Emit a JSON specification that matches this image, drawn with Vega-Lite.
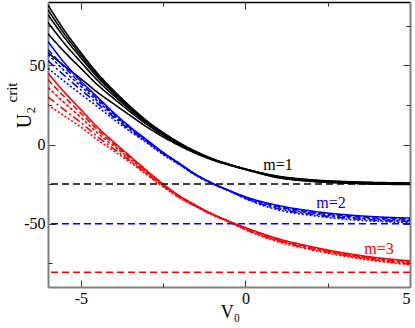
{
"$schema":"https://vega.github.io/schema/vega-lite/v6.json",
"width":362,"height":285,"autosize":"none",
"padding":{"left":48,"top":2,"right":5,"bottom":41},
"config":{"view":{"stroke":null},"font":"Liberation Serif",
"axis":{"grid":false,"labelFont":"Liberation Serif","titleFont":"Liberation Serif","labelColor":"#000","titleColor":"#000","titleFontWeight":"normal","labelFontSize":16,"titleFontSize":18,"domainColor":"#808080","domainWidth":2,"tickColor":"#333","tickWidth":1}},
"datasets":{
"curves":[
{"i":"k0","m":"m=1","s":"a","V":-6,"U":88},{"i":"k0","m":"m=1","s":"a","V":-5.5,"U":72},{"i":"k0","m":"m=1","s":"a","V":-5,"U":58},{"i":"k0","m":"m=1","s":"a","V":-4.5,"U":45},{"i":"k0","m":"m=1","s":"a","V":-4,"U":34},{"i":"k0","m":"m=1","s":"a","V":-3.5,"U":24},{"i":"k0","m":"m=1","s":"a","V":-3,"U":15},{"i":"k0","m":"m=1","s":"a","V":-2.5,"U":7.5},{"i":"k0","m":"m=1","s":"a","V":-2,"U":1},{"i":"k0","m":"m=1","s":"a","V":-1.5,"U":-4.5},{"i":"k0","m":"m=1","s":"a","V":-1,"U":-9},{"i":"k0","m":"m=1","s":"a","V":-0.5,"U":-12.5},{"i":"k0","m":"m=1","s":"a","V":0,"U":-15.5},{"i":"k0","m":"m=1","s":"a","V":1,"U":-20},{"i":"k0","m":"m=1","s":"a","V":2,"U":-22.3},{"i":"k0","m":"m=1","s":"a","V":3,"U":-23.4},{"i":"k0","m":"m=1","s":"a","V":4,"U":-24},{"i":"k0","m":"m=1","s":"a","V":5,"U":-24.3},
{"i":"k1","m":"m=1","s":"a","V":-6,"U":85},{"i":"k1","m":"m=1","s":"a","V":-5.5,"U":69.8},{"i":"k1","m":"m=1","s":"a","V":-5,"U":56.4},{"i":"k1","m":"m=1","s":"a","V":-4.5,"U":43.8},{"i":"k1","m":"m=1","s":"a","V":-4,"U":33.2},{"i":"k1","m":"m=1","s":"a","V":-3.5,"U":23.4},{"i":"k1","m":"m=1","s":"a","V":-3,"U":14.6},{"i":"k1","m":"m=1","s":"a","V":-2.5,"U":7.2},{"i":"k1","m":"m=1","s":"a","V":-2,"U":0.8},{"i":"k1","m":"m=1","s":"a","V":-1.5,"U":-4.6},{"i":"k1","m":"m=1","s":"a","V":-1,"U":-9.1},{"i":"k1","m":"m=1","s":"a","V":-0.5,"U":-12.6},{"i":"k1","m":"m=1","s":"a","V":0,"U":-15.5},{"i":"k1","m":"m=1","s":"a","V":1,"U":-20.2},{"i":"k1","m":"m=1","s":"a","V":2,"U":-22.5},{"i":"k1","m":"m=1","s":"a","V":3,"U":-23.6},{"i":"k1","m":"m=1","s":"a","V":4,"U":-24.2},{"i":"k1","m":"m=1","s":"a","V":5,"U":-24.5},
{"i":"k2","m":"m=1","s":"a","V":-6,"U":82},{"i":"k2","m":"m=1","s":"a","V":-5.5,"U":67.5},{"i":"k2","m":"m=1","s":"a","V":-5,"U":54.7},{"i":"k2","m":"m=1","s":"a","V":-4.5,"U":42.6},{"i":"k2","m":"m=1","s":"a","V":-4,"U":32.3},{"i":"k2","m":"m=1","s":"a","V":-3.5,"U":22.9},{"i":"k2","m":"m=1","s":"a","V":-3,"U":14.2},{"i":"k2","m":"m=1","s":"a","V":-2.5,"U":7},{"i":"k2","m":"m=1","s":"a","V":-2,"U":0.6},{"i":"k2","m":"m=1","s":"a","V":-1.5,"U":-4.7},{"i":"k2","m":"m=1","s":"a","V":-1,"U":-9.2},{"i":"k2","m":"m=1","s":"a","V":-0.5,"U":-12.6},{"i":"k2","m":"m=1","s":"a","V":0,"U":-15.6},{"i":"k2","m":"m=1","s":"a","V":1,"U":-20.4},{"i":"k2","m":"m=1","s":"a","V":2,"U":-22.7},{"i":"k2","m":"m=1","s":"a","V":3,"U":-23.8},{"i":"k2","m":"m=1","s":"a","V":4,"U":-24.4},{"i":"k2","m":"m=1","s":"a","V":5,"U":-24.7},
{"i":"k3","m":"m=1","s":"a","V":-6,"U":77},{"i":"k3","m":"m=1","s":"a","V":-5.5,"U":63.8},{"i":"k3","m":"m=1","s":"a","V":-5,"U":52},{"i":"k3","m":"m=1","s":"a","V":-4.5,"U":40.6},{"i":"k3","m":"m=1","s":"a","V":-4,"U":30.9},{"i":"k3","m":"m=1","s":"a","V":-3.5,"U":21.9},{"i":"k3","m":"m=1","s":"a","V":-3,"U":13.6},{"i":"k3","m":"m=1","s":"a","V":-2.5,"U":6.5},{"i":"k3","m":"m=1","s":"a","V":-2,"U":0.3},{"i":"k3","m":"m=1","s":"a","V":-1.5,"U":-4.9},{"i":"k3","m":"m=1","s":"a","V":-1,"U":-9.3},{"i":"k3","m":"m=1","s":"a","V":-0.5,"U":-12.7},{"i":"k3","m":"m=1","s":"a","V":0,"U":-15.6},{"i":"k3","m":"m=1","s":"a","V":1,"U":-20.6},{"i":"k3","m":"m=1","s":"a","V":2,"U":-22.9},{"i":"k3","m":"m=1","s":"a","V":3,"U":-24},{"i":"k3","m":"m=1","s":"a","V":4,"U":-24.6},{"i":"k3","m":"m=1","s":"a","V":5,"U":-24.9},
{"i":"k4","m":"m=1","s":"a","V":-6,"U":70},{"i":"k4","m":"m=1","s":"a","V":-5.5,"U":58.5},{"i":"k4","m":"m=1","s":"a","V":-5,"U":48.1},{"i":"k4","m":"m=1","s":"a","V":-4.5,"U":37.8},{"i":"k4","m":"m=1","s":"a","V":-4,"U":29},{"i":"k4","m":"m=1","s":"a","V":-3.5,"U":20.6},{"i":"k4","m":"m=1","s":"a","V":-3,"U":12.7},{"i":"k4","m":"m=1","s":"a","V":-2.5,"U":5.9},{"i":"k4","m":"m=1","s":"a","V":-2,"U":-0.1},{"i":"k4","m":"m=1","s":"a","V":-1.5,"U":-5.2},{"i":"k4","m":"m=1","s":"a","V":-1,"U":-9.5},{"i":"k4","m":"m=1","s":"a","V":-0.5,"U":-12.8},{"i":"k4","m":"m=1","s":"a","V":0,"U":-15.7},{"i":"k4","m":"m=1","s":"a","V":1,"U":-20.8},{"i":"k4","m":"m=1","s":"a","V":2,"U":-23.1},{"i":"k4","m":"m=1","s":"a","V":3,"U":-24.2},{"i":"k4","m":"m=1","s":"a","V":4,"U":-24.8},{"i":"k4","m":"m=1","s":"a","V":5,"U":-25.1},
{"i":"k5","m":"m=1","s":"a","V":-6,"U":58},{"i":"k5","m":"m=1","s":"a","V":-5.5,"U":49.5},{"i":"k5","m":"m=1","s":"a","V":-5,"U":41.5},{"i":"k5","m":"m=1","s":"a","V":-4.5,"U":33},{"i":"k5","m":"m=1","s":"a","V":-4,"U":25.6},{"i":"k5","m":"m=1","s":"a","V":-3.5,"U":18.3},{"i":"k5","m":"m=1","s":"a","V":-3,"U":11.1},{"i":"k5","m":"m=1","s":"a","V":-2.5,"U":4.8},{"i":"k5","m":"m=1","s":"a","V":-2,"U":-0.8},{"i":"k5","m":"m=1","s":"a","V":-1.5,"U":-5.7},{"i":"k5","m":"m=1","s":"a","V":-1,"U":-9.8},{"i":"k5","m":"m=1","s":"a","V":-0.5,"U":-13},{"i":"k5","m":"m=1","s":"a","V":0,"U":-15.8},{"i":"k5","m":"m=1","s":"a","V":1,"U":-21},{"i":"k5","m":"m=1","s":"a","V":2,"U":-23.3},{"i":"k5","m":"m=1","s":"a","V":3,"U":-24.4},{"i":"k5","m":"m=1","s":"a","V":4,"U":-25},{"i":"k5","m":"m=1","s":"a","V":5,"U":-25.3},
{"i":"b0","m":"m=2","s":"a","V":-6,"U":65},{"i":"b0","m":"m=2","s":"a","V":-5.5,"U":51.5},{"i":"b0","m":"m=2","s":"a","V":-5,"U":40},{"i":"b0","m":"m=2","s":"a","V":-4.5,"U":30},{"i":"b0","m":"m=2","s":"a","V":-4,"U":20},{"i":"b0","m":"m=2","s":"a","V":-3.5,"U":11},{"i":"b0","m":"m=2","s":"a","V":-3,"U":3},{"i":"b0","m":"m=2","s":"a","V":-2.5,"U":-5},{"i":"b0","m":"m=2","s":"a","V":-2,"U":-12},{"i":"b0","m":"m=2","s":"a","V":-1.5,"U":-19},{"i":"b0","m":"m=2","s":"a","V":-1,"U":-24.5},{"i":"b0","m":"m=2","s":"a","V":-0.5,"U":-29},{"i":"b0","m":"m=2","s":"a","V":0,"U":-33},{"i":"b0","m":"m=2","s":"a","V":1,"U":-38.5},{"i":"b0","m":"m=2","s":"a","V":2,"U":-42},{"i":"b0","m":"m=2","s":"a","V":3,"U":-44.3},{"i":"b0","m":"m=2","s":"a","V":4,"U":-45.7},{"i":"b0","m":"m=2","s":"a","V":5,"U":-46.5},
{"i":"b1","m":"m=2","s":"b","V":-6,"U":60},{"i":"b1","m":"m=2","s":"b","V":-5.5,"U":48.8},{"i":"b1","m":"m=2","s":"b","V":-5,"U":38.4},{"i":"b1","m":"m=2","s":"b","V":-4.5,"U":28.8},{"i":"b1","m":"m=2","s":"b","V":-4,"U":19.2},{"i":"b1","m":"m=2","s":"b","V":-3.5,"U":10.4},{"i":"b1","m":"m=2","s":"b","V":-3,"U":2.6},{"i":"b1","m":"m=2","s":"b","V":-2.5,"U":-5.3},{"i":"b1","m":"m=2","s":"b","V":-2,"U":-12.2},{"i":"b1","m":"m=2","s":"b","V":-1.5,"U":-19.1},{"i":"b1","m":"m=2","s":"b","V":-1,"U":-24.6},{"i":"b1","m":"m=2","s":"b","V":-0.5,"U":-29.1},{"i":"b1","m":"m=2","s":"b","V":0,"U":-33.3},{"i":"b1","m":"m=2","s":"b","V":1,"U":-39.2},{"i":"b1","m":"m=2","s":"b","V":2,"U":-42.7},{"i":"b1","m":"m=2","s":"b","V":3,"U":-45},{"i":"b1","m":"m=2","s":"b","V":4,"U":-46.4},{"i":"b1","m":"m=2","s":"b","V":5,"U":-47.2},
{"i":"b2","m":"m=2","s":"c","V":-6,"U":57},{"i":"b2","m":"m=2","s":"c","V":-5.5,"U":46.5},{"i":"b2","m":"m=2","s":"c","V":-5,"U":36.7},{"i":"b2","m":"m=2","s":"c","V":-4.5,"U":27.6},{"i":"b2","m":"m=2","s":"c","V":-4,"U":18.3},{"i":"b2","m":"m=2","s":"c","V":-3.5,"U":9.9},{"i":"b2","m":"m=2","s":"c","V":-3,"U":2.2},{"i":"b2","m":"m=2","s":"c","V":-2.5,"U":-5.5},{"i":"b2","m":"m=2","s":"c","V":-2,"U":-12.4},{"i":"b2","m":"m=2","s":"c","V":-1.5,"U":-19.2},{"i":"b2","m":"m=2","s":"c","V":-1,"U":-24.7},{"i":"b2","m":"m=2","s":"c","V":-0.5,"U":-29.1},{"i":"b2","m":"m=2","s":"c","V":0,"U":-33.6},{"i":"b2","m":"m=2","s":"c","V":1,"U":-39.9},{"i":"b2","m":"m=2","s":"c","V":2,"U":-43.4},{"i":"b2","m":"m=2","s":"c","V":3,"U":-45.7},{"i":"b2","m":"m=2","s":"c","V":4,"U":-47.1},{"i":"b2","m":"m=2","s":"c","V":5,"U":-47.9},
{"i":"b3","m":"m=2","s":"d","V":-6,"U":53},{"i":"b3","m":"m=2","s":"d","V":-5.5,"U":43.5},{"i":"b3","m":"m=2","s":"d","V":-5,"U":34.5},{"i":"b3","m":"m=2","s":"d","V":-4.5,"U":26},{"i":"b3","m":"m=2","s":"d","V":-4,"U":17.2},{"i":"b3","m":"m=2","s":"d","V":-3.5,"U":9.1},{"i":"b3","m":"m=2","s":"d","V":-3,"U":1.7},{"i":"b3","m":"m=2","s":"d","V":-2.5,"U":-5.9},{"i":"b3","m":"m=2","s":"d","V":-2,"U":-12.6},{"i":"b3","m":"m=2","s":"d","V":-1.5,"U":-19.4},{"i":"b3","m":"m=2","s":"d","V":-1,"U":-24.8},{"i":"b3","m":"m=2","s":"d","V":-0.5,"U":-29.2},{"i":"b3","m":"m=2","s":"d","V":0,"U":-34},{"i":"b3","m":"m=2","s":"d","V":1,"U":-40.6},{"i":"b3","m":"m=2","s":"d","V":2,"U":-44.1},{"i":"b3","m":"m=2","s":"d","V":3,"U":-46.4},{"i":"b3","m":"m=2","s":"d","V":4,"U":-47.8},{"i":"b3","m":"m=2","s":"d","V":5,"U":-48.6},
{"i":"b4","m":"m=2","s":"e","V":-6,"U":48},{"i":"b4","m":"m=2","s":"e","V":-5.5,"U":39.8},{"i":"b4","m":"m=2","s":"e","V":-5,"U":31.8},{"i":"b4","m":"m=2","s":"e","V":-4.5,"U":24},{"i":"b4","m":"m=2","s":"e","V":-4,"U":15.8},{"i":"b4","m":"m=2","s":"e","V":-3.5,"U":8.2},{"i":"b4","m":"m=2","s":"e","V":-3,"U":1.1},{"i":"b4","m":"m=2","s":"e","V":-2.5,"U":-6.4},{"i":"b4","m":"m=2","s":"e","V":-2,"U":-12.9},{"i":"b4","m":"m=2","s":"e","V":-1.5,"U":-19.6},{"i":"b4","m":"m=2","s":"e","V":-1,"U":-24.9},{"i":"b4","m":"m=2","s":"e","V":-0.5,"U":-29.2},{"i":"b4","m":"m=2","s":"e","V":0,"U":-34.3},{"i":"b4","m":"m=2","s":"e","V":1,"U":-41.3},{"i":"b4","m":"m=2","s":"e","V":2,"U":-44.8},{"i":"b4","m":"m=2","s":"e","V":3,"U":-47.1},{"i":"b4","m":"m=2","s":"e","V":4,"U":-48.5},{"i":"b4","m":"m=2","s":"e","V":5,"U":-49.3},
{"i":"r0","m":"m=3","s":"a","V":-6,"U":45},{"i":"r0","m":"m=3","s":"a","V":-5.5,"U":33},{"i":"r0","m":"m=3","s":"a","V":-5,"U":22},{"i":"r0","m":"m=3","s":"a","V":-4.5,"U":11},{"i":"r0","m":"m=3","s":"a","V":-4,"U":1.5},{"i":"r0","m":"m=3","s":"a","V":-3.5,"U":-7.5},{"i":"r0","m":"m=3","s":"a","V":-3,"U":-16.5},{"i":"r0","m":"m=3","s":"a","V":-2.5,"U":-25},{"i":"r0","m":"m=3","s":"a","V":-2,"U":-32.5},{"i":"r0","m":"m=3","s":"a","V":-1.5,"U":-38.5},{"i":"r0","m":"m=3","s":"a","V":-1,"U":-44},{"i":"r0","m":"m=3","s":"a","V":-0.5,"U":-48.5},{"i":"r0","m":"m=3","s":"a","V":0,"U":-52.5},{"i":"r0","m":"m=3","s":"a","V":1,"U":-59.5},{"i":"r0","m":"m=3","s":"a","V":2,"U":-64.5},{"i":"r0","m":"m=3","s":"a","V":3,"U":-68.5},{"i":"r0","m":"m=3","s":"a","V":4,"U":-71.5},{"i":"r0","m":"m=3","s":"a","V":5,"U":-73.5},
{"i":"r1","m":"m=3","s":"b","V":-6,"U":41},{"i":"r1","m":"m=3","s":"b","V":-5.5,"U":30},{"i":"r1","m":"m=3","s":"b","V":-5,"U":19.8},{"i":"r1","m":"m=3","s":"b","V":-4.5,"U":9.4},{"i":"r1","m":"m=3","s":"b","V":-4,"U":0.4},{"i":"r1","m":"m=3","s":"b","V":-3.5,"U":-8.3},{"i":"r1","m":"m=3","s":"b","V":-3,"U":-17},{"i":"r1","m":"m=3","s":"b","V":-2.5,"U":-25.4},{"i":"r1","m":"m=3","s":"b","V":-2,"U":-32.7},{"i":"r1","m":"m=3","s":"b","V":-1.5,"U":-38.7},{"i":"r1","m":"m=3","s":"b","V":-1,"U":-44.1},{"i":"r1","m":"m=3","s":"b","V":-0.5,"U":-48.6},{"i":"r1","m":"m=3","s":"b","V":0,"U":-52.8},{"i":"r1","m":"m=3","s":"b","V":1,"U":-60},{"i":"r1","m":"m=3","s":"b","V":2,"U":-65},{"i":"r1","m":"m=3","s":"b","V":3,"U":-69},{"i":"r1","m":"m=3","s":"b","V":4,"U":-72},{"i":"r1","m":"m=3","s":"b","V":5,"U":-74.2},
{"i":"r2","m":"m=3","s":"c","V":-6,"U":36},{"i":"r2","m":"m=3","s":"c","V":-5.5,"U":26.3},{"i":"r2","m":"m=3","s":"c","V":-5,"U":17.1},{"i":"r2","m":"m=3","s":"c","V":-4.5,"U":7.4},{"i":"r2","m":"m=3","s":"c","V":-4,"U":-1},{"i":"r2","m":"m=3","s":"c","V":-3.5,"U":-9.2},{"i":"r2","m":"m=3","s":"c","V":-3,"U":-17.7},{"i":"r2","m":"m=3","s":"c","V":-2.5,"U":-25.8},{"i":"r2","m":"m=3","s":"c","V":-2,"U":-33},{"i":"r2","m":"m=3","s":"c","V":-1.5,"U":-38.9},{"i":"r2","m":"m=3","s":"c","V":-1,"U":-44.2},{"i":"r2","m":"m=3","s":"c","V":-0.5,"U":-48.6},{"i":"r2","m":"m=3","s":"c","V":0,"U":-53.2},{"i":"r2","m":"m=3","s":"c","V":1,"U":-60.5},{"i":"r2","m":"m=3","s":"c","V":2,"U":-65.5},{"i":"r2","m":"m=3","s":"c","V":3,"U":-69.5},{"i":"r2","m":"m=3","s":"c","V":4,"U":-72.6},{"i":"r2","m":"m=3","s":"c","V":5,"U":-74.9},
{"i":"r3","m":"m=3","s":"d","V":-6,"U":30},{"i":"r3","m":"m=3","s":"d","V":-5.5,"U":21.8},{"i":"r3","m":"m=3","s":"d","V":-5,"U":13.8},{"i":"r3","m":"m=3","s":"d","V":-4.5,"U":5},{"i":"r3","m":"m=3","s":"d","V":-4,"U":-2.7},{"i":"r3","m":"m=3","s":"d","V":-3.5,"U":-10.4},{"i":"r3","m":"m=3","s":"d","V":-3,"U":-18.5},{"i":"r3","m":"m=3","s":"d","V":-2.5,"U":-26.4},{"i":"r3","m":"m=3","s":"d","V":-2,"U":-33.4},{"i":"r3","m":"m=3","s":"d","V":-1.5,"U":-39.1},{"i":"r3","m":"m=3","s":"d","V":-1,"U":-44.4},{"i":"r3","m":"m=3","s":"d","V":-0.5,"U":-48.7},{"i":"r3","m":"m=3","s":"d","V":0,"U":-53.6},{"i":"r3","m":"m=3","s":"d","V":1,"U":-61},{"i":"r3","m":"m=3","s":"d","V":2,"U":-66},{"i":"r3","m":"m=3","s":"d","V":3,"U":-70},{"i":"r3","m":"m=3","s":"d","V":4,"U":-73.1},{"i":"r3","m":"m=3","s":"d","V":5,"U":-75.5},
{"i":"r4","m":"m=3","s":"e","V":-6,"U":25},{"i":"r4","m":"m=3","s":"e","V":-5.5,"U":18},{"i":"r4","m":"m=3","s":"e","V":-5,"U":11},{"i":"r4","m":"m=3","s":"e","V":-4.5,"U":3},{"i":"r4","m":"m=3","s":"e","V":-4,"U":-4.1},{"i":"r4","m":"m=3","s":"e","V":-3.5,"U":-11.3},{"i":"r4","m":"m=3","s":"e","V":-3,"U":-19.1},{"i":"r4","m":"m=3","s":"e","V":-2.5,"U":-26.8},{"i":"r4","m":"m=3","s":"e","V":-2,"U":-33.7},{"i":"r4","m":"m=3","s":"e","V":-1.5,"U":-39.3},{"i":"r4","m":"m=3","s":"e","V":-1,"U":-44.5},{"i":"r4","m":"m=3","s":"e","V":-0.5,"U":-48.8},{"i":"r4","m":"m=3","s":"e","V":0,"U":-53.9},{"i":"r4","m":"m=3","s":"e","V":1,"U":-61.5},{"i":"r4","m":"m=3","s":"e","V":2,"U":-66.5},{"i":"r4","m":"m=3","s":"e","V":3,"U":-70.5},{"i":"r4","m":"m=3","s":"e","V":4,"U":-73.6},{"i":"r4","m":"m=3","s":"e","V":5,"U":-76}
],
"hl":[{"m":"m=1","U":-25},{"m":"m=2","U":-50},{"m":"m=3","U":-80.7}],
"lab":[{"m":"m=1","V":0.99,"U":-16.4},{"m":"m=2","V":2.6,"U":-40.4},{"m":"m=3","V":4.06,"U":-69}]
},
"resolve":{"axis":{"x":"independent","y":"independent"}},
"layer":[
{"data":{"name":"curves"},"mark":{"type":"line","strokeWidth":1.6,"interpolate":"monotone","clip":true},
"encoding":{
"x":{"field":"V","type":"quantitative","scale":{"domain":[-6,5],"nice":false,"zero":false},
"axis":{"orient":"bottom","values":[-5,0,5],"tickSize":-7,"labelPadding":10,"labelExpr":"'' + datum.value","title":"V₀","titleX":182,"titleY":30,"titleBaseline":"alphabetic","titleFontSize":18}},
"y":{"field":"U","type":"quantitative","scale":{"domain":[-90,90],"nice":false,"zero":false},
"axis":{"orient":"left","values":[-50,0,50],"tickSize":-7,"labelPadding":10,"labelExpr":"'' + datum.value","title":"U₂","titleX":-18,"titleY":115,"titleAngle":-90,"titleAlign":"center","titleBaseline":"alphabetic","titleFontSize":20}},
"detail":{"field":"i"},
"color":{"field":"m","type":"nominal","scale":{"domain":["m=1","m=2","m=3"],"range":["#000000","#0000ff","#ff0000"]},"legend":null},
"strokeDash":{"field":"s","type":"nominal","scale":{"domain":["a","b","c","d","e"],"range":[[1,0],[6,3],[3,2],[8,3,2,3],[2,2]]},"legend":null}
}},
{"data":{"name":"lab"},"mark":{"type":"text","font":"Liberation Serif","fontSize":16,"align":"center","baseline":"alphabetic"},
"encoding":{
"x":{"field":"V","type":"quantitative","axis":{"orient":"bottom","values":[-2.5,2.5],"tickSize":-4,"labels":false,"domain":false,"title":null}},
"y":{"field":"U","type":"quantitative","axis":{"orient":"left","values":[-75,-25,25,75],"tickSize":-4,"labels":false,"domain":false,"title":null}},
"text":{"field":"m"},
"color":{"field":"m","type":"nominal","legend":null}
}},
{"data":{"name":"hl"},"mark":{"type":"rule","strokeDash":[7,4],"strokeWidth":1.5},
"encoding":{
"y":{"field":"U","type":"quantitative","axis":{"orient":"right","values":[-50,0,50],"tickSize":-7,"labels":false,"title":null}},
"color":{"field":"m","type":"nominal","legend":null}
}},
{"data":{"name":"lab"},"mark":{"type":"point","opacity":0},
"encoding":{
"x":{"field":"V","type":"quantitative","axis":{"orient":"top","values":[-5,0,5],"tickSize":-7,"labels":false,"title":null,"domainColor":"#000000","domainWidth":1.5}},
"y":{"field":"U","type":"quantitative","axis":{"orient":"right","values":[-75,-25,25,75],"tickSize":-4,"labels":false,"domain":false,"title":null}}
}},
{"data":{"name":"lab"},"mark":{"type":"point","opacity":0},
"encoding":{
"x":{"field":"V","type":"quantitative","axis":{"orient":"top","values":[-2.5,2.5],"tickSize":-4,"labels":false,"domain":false,"title":null}},
"y":{"field":"U","type":"quantitative","axis":{"orient":"left","ticks":false,"labels":false,"domain":false,"title":"crit","titleX":-32,"titleY":90,"titleAngle":-90,"titleAlign":"center","titleBaseline":"alphabetic","titleFontSize":15}}
}}
]
}
